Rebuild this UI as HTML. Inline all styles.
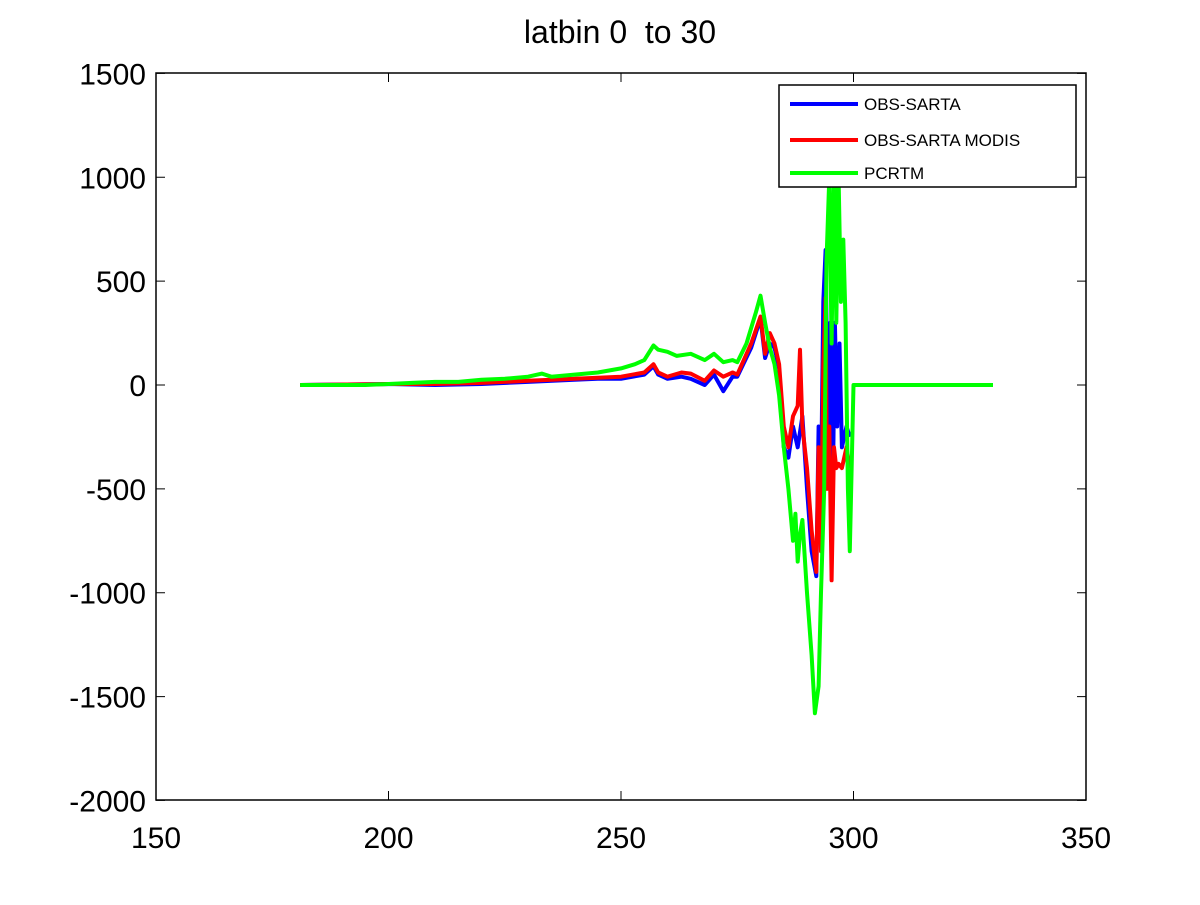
<!DOCTYPE html>
<html><head><meta charset="utf-8"><style>
body{margin:0;background:#fff;}
svg text{font-family:"Liberation Sans",sans-serif;}
</style></head><body>
<svg id="chart" width="1200" height="900" xmlns="http://www.w3.org/2000/svg">
<rect width="1200" height="900" fill="#fff"/>
<text x="620" y="43" font-size="32" text-anchor="middle" style="white-space:pre">latbin 0  to 30</text>
<rect x="156" y="73" width="930" height="727" fill="#fff" stroke="#000" stroke-width="1.5"/>
<g id="ticks"></g>
<g id="series"></g>
<g>
<rect x="779" y="85" width="297" height="102" fill="#fff" stroke="#000" stroke-width="1.5"/>
<line x1="790" y1="104" x2="858" y2="104" stroke="#0000ff" stroke-width="4"/>
<text x="864" y="110" font-size="17">OBS-SARTA</text>
<line x1="790" y1="140" x2="858" y2="140" stroke="#ff0000" stroke-width="4"/>
<text x="864" y="146" font-size="17">OBS-SARTA MODIS</text>
<line x1="790" y1="173" x2="858" y2="173" stroke="#00ff00" stroke-width="4"/>
<text x="864" y="179" font-size="17">PCRTM</text>
</g>
</svg>
<script>
const xTicks=[150,200,250,300,350];
const yTicks=[1500,1000,500,0,-500,-1000,-1500,-2000];
const greenX=[181,195,200,205,210,215,220,225,230,233,235,240,245,250,253,255,257,258,260,262,265,268,270,272,274,275,277,279,280,281,282,283,284,285,286,287,287.5,288,288.5,289,290,291,291.7,292.5,293,293.7,294.2,294.8,295.3,295.8,296.3,296.8,297.3,297.8,298.3,298.8,299.2,300,330];
const greenY=[0,0,5,10,15,15,25,30,40,55,40,50,60,80,100,120,190,170,160,140,150,120,150,110,120,110,200,350,430,300,180,100,-50,-300,-500,-750,-620,-850,-720,-650,-1000,-1300,-1580,-1450,-1000,-500,600,1000,200,1100,300,1000,400,700,300,-500,-800,0,0];
const redX=[181,200,210,220,230,240,245,250,255,257,258,260,263,265,268,270,272,274,275,278,280,281,282,283,284,285,286,287,288,288.5,289,290,291,292,292.5,293,293.5,294,294.3,294.8,295.3,295.8,296.3,296.8,297.5,298.5,299.2];
const redY=[0,5,5,10,20,30,35,40,60,100,60,40,60,55,20,70,40,60,50,200,330,150,250,200,100,-200,-300,-150,-100,170,-200,-400,-700,-900,-300,-800,100,420,-500,-200,-940,-300,-400,-380,-400,-300,-400];
const blueX=[181,200,210,220,230,240,245,250,255,257,258,260,263,265,268,270,272,274,275,278,280,281,282,283,284,285,286,287,288,289,290,291,292,292.5,293,293.5,294,294.5,295,295.5,296,296.5,297,297.5,298.5,299.2];
const blueY=[0,5,0,5,15,25,30,30,50,90,50,30,40,30,0,50,-30,40,40,180,320,130,200,180,80,-300,-350,-200,-300,-150,-500,-800,-920,-200,-500,400,650,-300,300,-600,300,-200,200,-300,-200,-250];
const X=v=>156+(v-150)*930/200;
const Y=v=>385-v*727/3500;
const NS="http://www.w3.org/2000/svg";
const tg=document.getElementById('ticks');
xTicks.forEach(t=>{
 const l=document.createElementNS(NS,'path');
 l.setAttribute('d',`M${X(t)},800v-9M${X(t)},73v9`);l.setAttribute('stroke','#000');
 
 
 tg.appendChild(l);
 const tx=document.createElementNS(NS,'text');
 tx.setAttribute('x',X(t));tx.setAttribute('y',848);tx.setAttribute('font-size','30');tx.setAttribute('text-anchor','middle');
 tx.textContent=t;
 
 
 tg.appendChild(tx);
});
yTicks.forEach(t=>{
 const l=document.createElementNS(NS,'path');
 l.setAttribute('d',`M156,${Y(t)}h9M1086,${Y(t)}h-9`);l.setAttribute('stroke','#000');
 
 
 tg.appendChild(l);
 const tx=document.createElementNS(NS,'text');
 tx.setAttribute('x',146);tx.setAttribute('y',Y(t)+11);tx.setAttribute('font-size','30');tx.setAttribute('text-anchor','end');
 tx.textContent=t;
 
 
 tg.appendChild(tx);
});
const sg=document.getElementById('series');
function line(xs,ys,c,name){
 const p=document.createElementNS(NS,'polyline');
 p.setAttribute('points',xs.map((x,i)=>X(x).toFixed(1)+','+Y(ys[i]).toFixed(1)).join(' '));
 p.setAttribute('fill','none');p.setAttribute('stroke',c);p.setAttribute('stroke-width','4');p.setAttribute('stroke-linejoin','round');
 
 
 sg.appendChild(p);
}
line(blueX,blueY,'#0000ff','obs-sarta-line');
line(redX,redY,'#ff0000','obs-sarta-modis-line');
line(greenX,greenY,'#00ff00','pcrtm-line');
</script>
</body></html>
